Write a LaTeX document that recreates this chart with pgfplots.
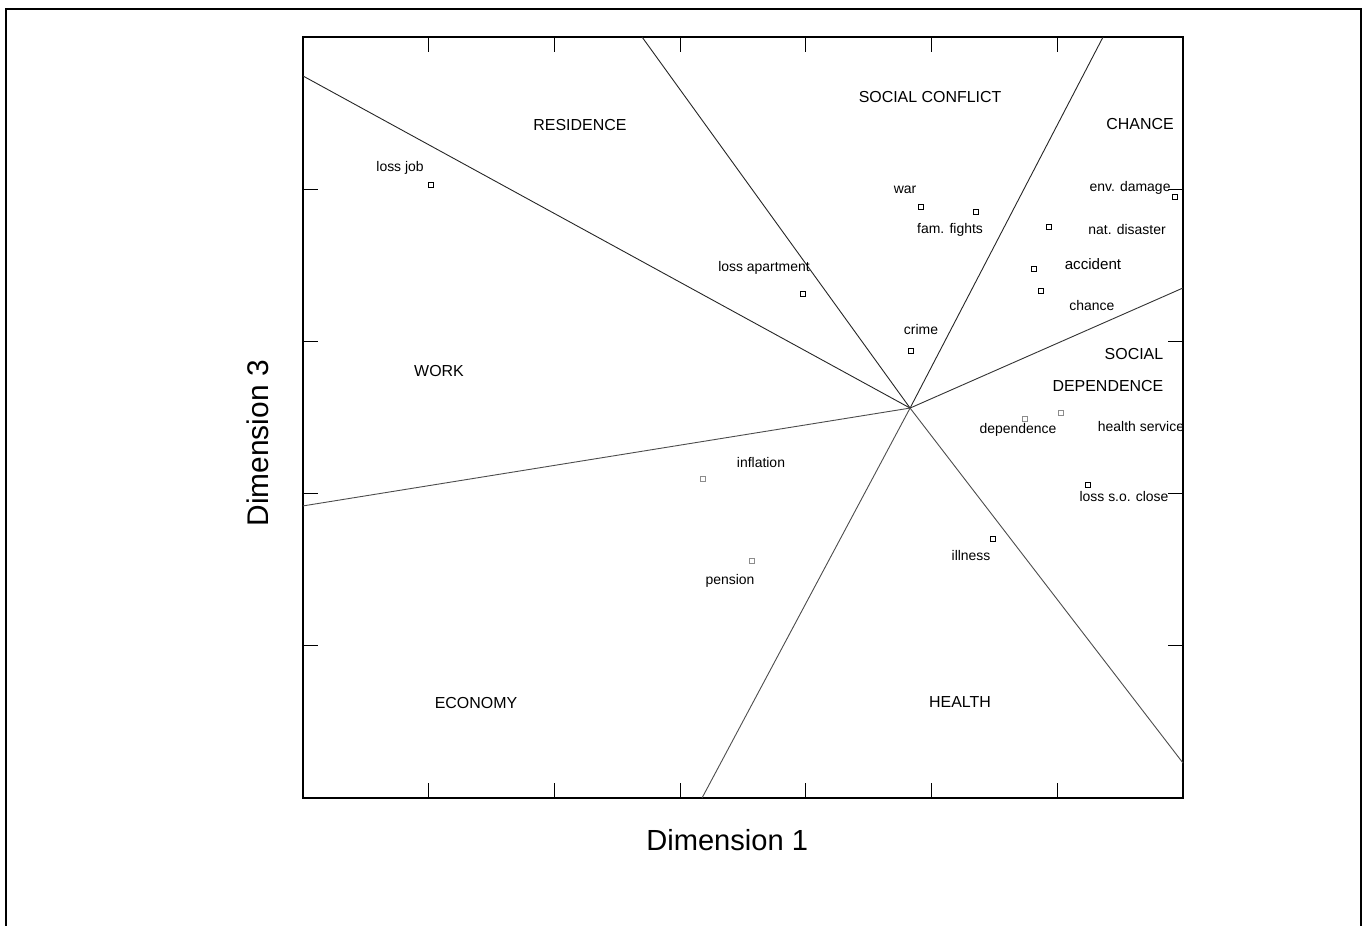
\documentclass[border=0pt]{standalone}
\usepackage{pgfplots}
\pgfplotsset{compat=1.18}
\usepackage{fontspec}
\setmainfont{Liberation Sans}
\begin{document}
\begin{tikzpicture}
\useasboundingbox (0,0) rectangle (682bp,463bp);
\draw[line width=1.4bp] (3bp,-10bp) rectangle (680.5bp,458.5bp);
\begin{axis}[
  at={(151.5bp,64bp)}, anchor=south west,
  scale only axis, width=440bp, height=380.5bp,
  xmin=0, xmax=7, ymin=0, ymax=5,
  xtick={1,2,3,4,5,6}, ytick={1,2,3,4},
  xticklabels={}, yticklabels={},
  tick pos=both, tick align=inside,
  major tick length=7.5bp,
  every tick/.style={black, line width=0.6bp},
  axis line style={line width=0.8bp},
  clip=false,
  xlabel={Dimension 1}, ylabel={Dimension 3},
  xlabel style={at={(axis description cs:0.482,-0.0552)}, anchor=center, font=\fontsize{14.6}{18}\selectfont},
  ylabel style={at={(axis description cs:-0.0511,0.466)}, anchor=center, font=\fontsize{15}{18}\selectfont},
]
% dividing rays
\addplot[black!85, line width=0.45bp] coordinates {(4.829,2.562) (0,4.744)};
\addplot[black!85, line width=0.45bp] coordinates {(4.829,2.562) (2.697,5)};
\addplot[black!85, line width=0.45bp] coordinates {(4.829,2.562) (6.364,5)};
\addplot[black!80, line width=0.45bp] coordinates {(4.829,2.562) (7,3.351)};
\addplot[black!70, line width=0.45bp] coordinates {(4.829,2.562) (7,0.230)};
\addplot[black!70, line width=0.45bp] coordinates {(4.829,2.562) (3.174,0)};
\addplot[black!70, line width=0.45bp] coordinates {(4.829,2.562) (0,1.919)};
% points
\addplot[only marks, mark=square, mark size=1.2bp, mark options={black, line width=0.4bp}] coordinates {
(1.018,4.028) (3.977,3.311) (4.916,3.883) (5.353,3.850) (4.836,2.937)
(6.936,3.949) (5.934,3.752) (5.815,3.476) (5.871,3.331)
(6.244,2.057) (5.489,1.702)
};
\addplot[only marks, mark=square, mark size=1.2bp, mark options={black!45, line width=0.3bp}] coordinates {
(5.743,2.490) (6.030,2.530) (3.182,2.096) (3.572,1.557)
};
% region labels
\begin{scope}[every node/.style={font=\fontsize{8}{9}\selectfont, inner sep=0pt}]
\node at (axis cs:2.203,4.422) {RESIDENCE};
\node at (axis cs:4.988,4.606) {SOCIAL CONFLICT};
\node at (axis cs:6.658,4.428) {CHANCE};
\node at (axis cs:6.610,2.917) {SOCIAL};
\node at (axis cs:6.403,2.707) {DEPENDENCE};
\node at (axis cs:1.082,2.806) {WORK};
\node at (axis cs:1.376,0.624) {ECONOMY};
\node at (axis cs:5.226,0.631) {HEALTH};
\end{scope}
% item labels
\begin{scope}[every node/.style={font=\fontsize{7}{8}\selectfont, inner sep=0pt}]
\node at (axis cs:0.772,4.139) {loss job};
\node at (axis cs:3.667,3.482) {loss apartment};
\node at (axis cs:4.789,3.995) {war};
\node at (axis cs:5.147,3.732) {fam. fights};
\node at (axis cs:4.916,3.081) {crime};
\node at (axis cs:6.579,4.008) {env. damage};
\node at (axis cs:6.555,3.732) {nat. disaster};
\node[font=\fontsize{7.6}{8}\selectfont] at (axis cs:6.284,3.509) {accident};
\node at (axis cs:6.276,3.233) {chance};
\node at (axis cs:5.688,2.418) {dependence};
\node at (axis cs:6.666,2.444) {health service};
\node at (axis cs:6.531,1.978) {loss s.o. close};
\node at (axis cs:3.643,2.201) {inflation};
\node at (axis cs:3.397,1.426) {pension};
\node at (axis cs:5.314,1.590) {illness};
\end{scope}
\end{axis}
\end{tikzpicture}
\end{document}
